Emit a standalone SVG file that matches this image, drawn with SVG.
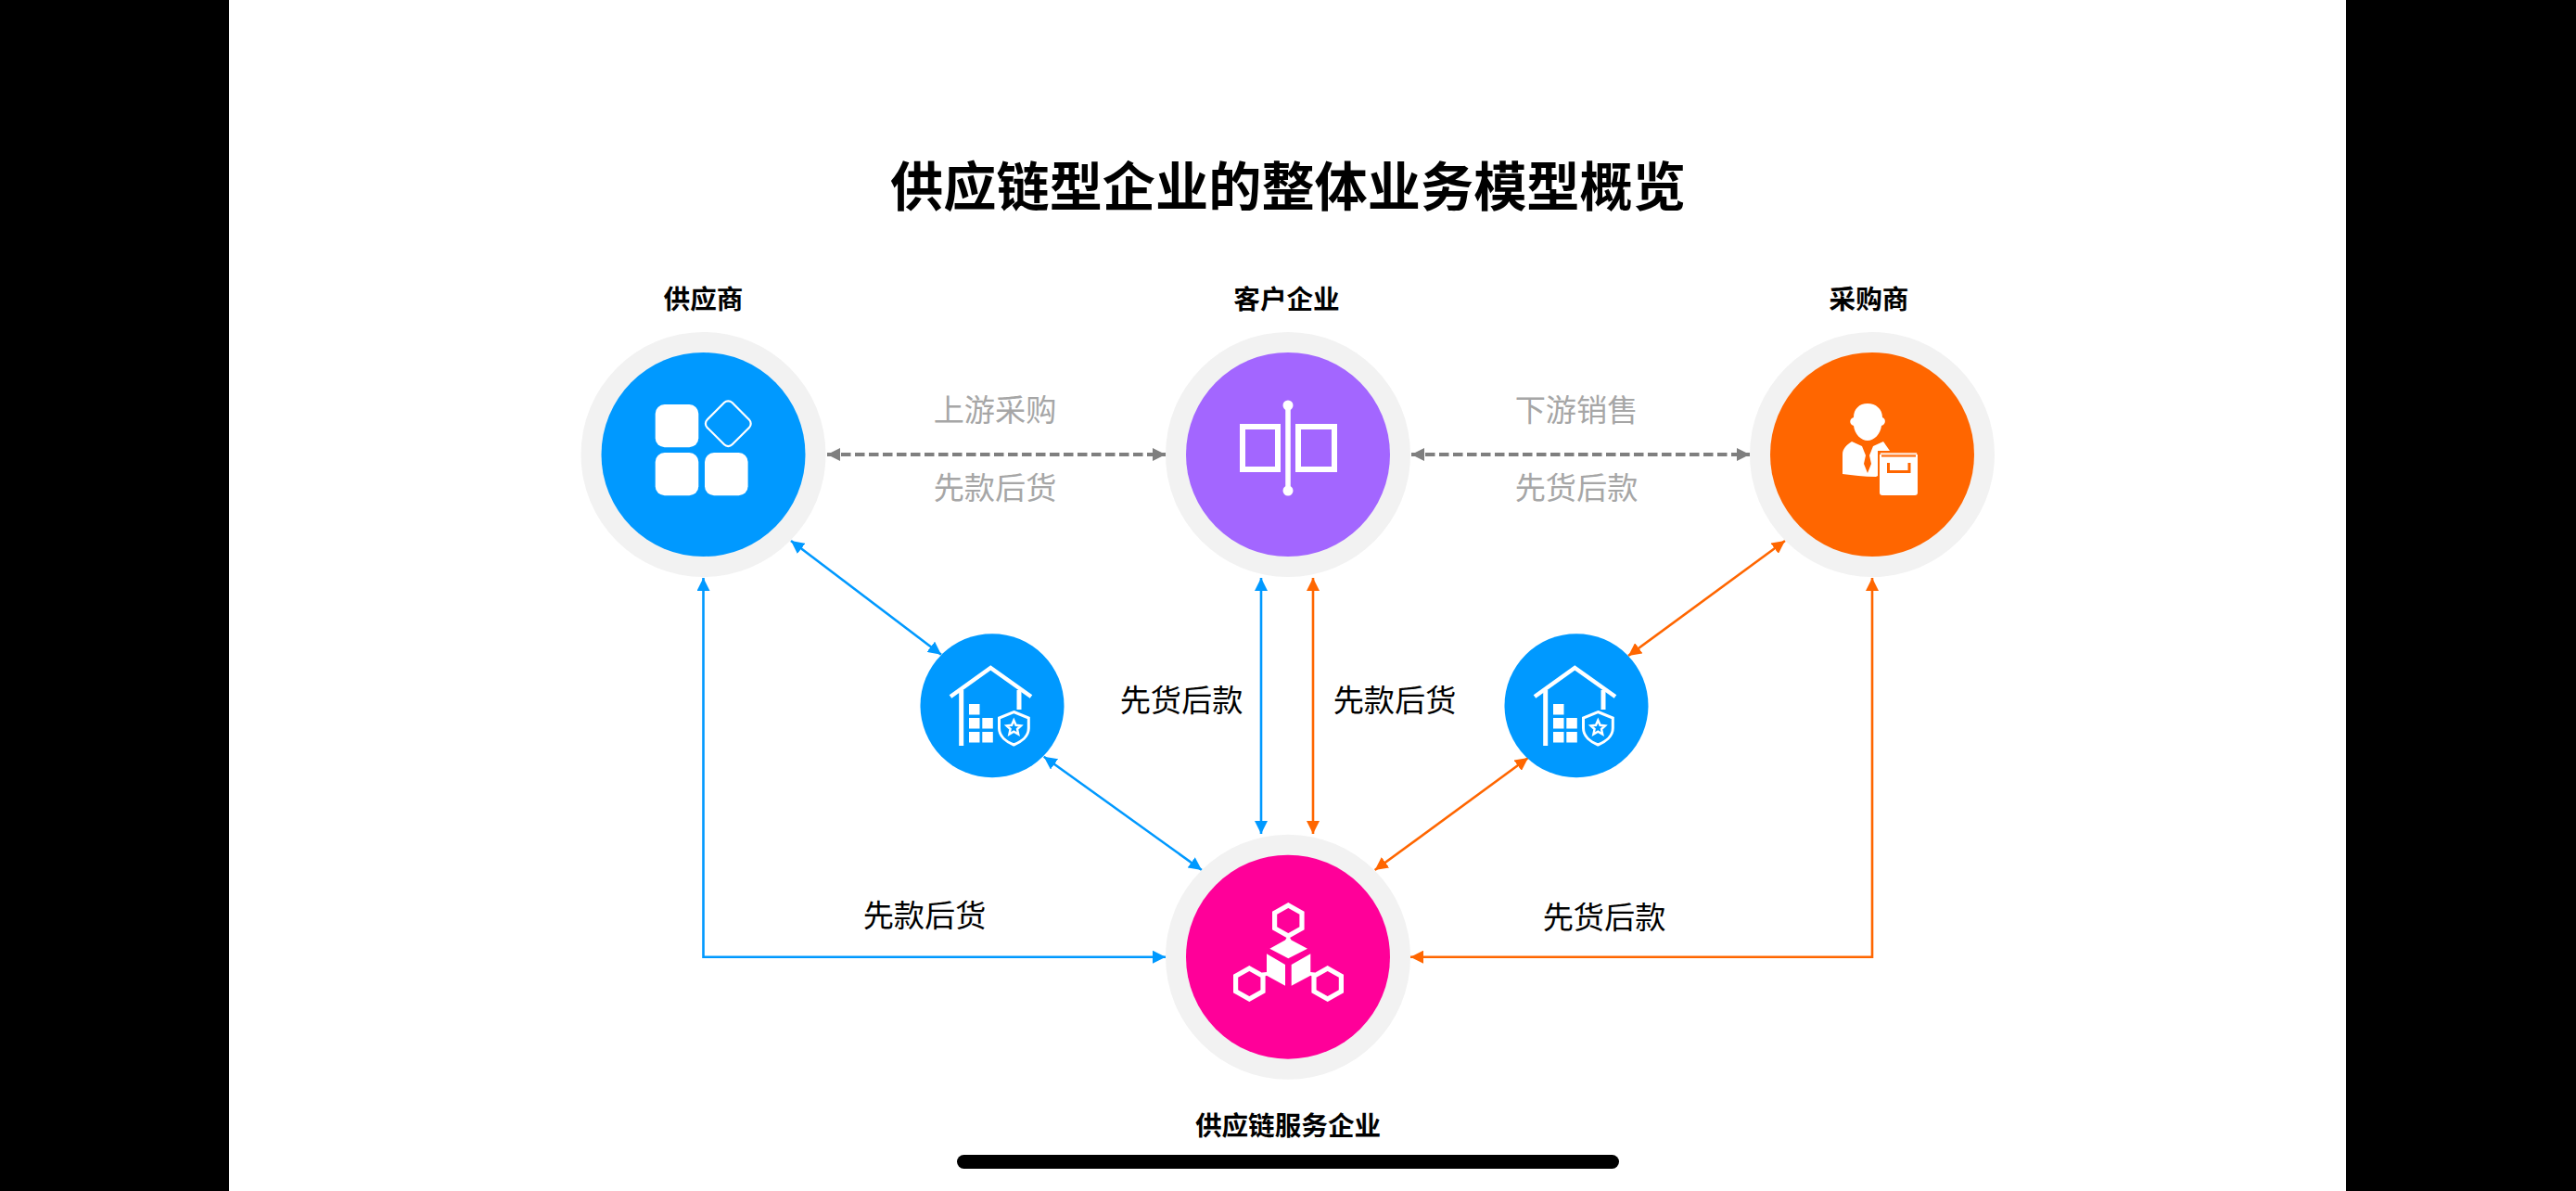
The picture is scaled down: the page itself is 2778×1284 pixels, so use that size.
<svg xmlns="http://www.w3.org/2000/svg" width="2778" height="1284" viewBox="0 0 2778 1284">
<style>
text{font-family:"Noto Sans CJK SC","Liberation Sans",sans-serif;text-anchor:middle}
.title{font-size:57.2px;font-weight:700;fill:#000}
.name{font-size:28.6px;font-weight:700;fill:#000}
.grey{font-size:33.2px;fill:#a6a6a6}
.edge{font-size:33.2px;fill:#000}
.ring{fill:#f2f2f2}
.w{fill:#fff}
.wl{fill:none;stroke:#fff}
.b{fill:none;stroke:#0099ff;stroke-width:2.6;marker-start:url(#ab);marker-end:url(#ab)}
.o{fill:none;stroke:#ff6600;stroke-width:2.6;marker-start:url(#ao);marker-end:url(#ao)}
.g{fill:none;stroke:#7f7f7f;stroke-width:4;stroke-dasharray:10.5 4.5;marker-start:url(#ag);marker-end:url(#ag)}
</style>
<defs>
<marker id="ab" markerUnits="userSpaceOnUse" markerWidth="15" markerHeight="14" refX="14" refY="7" orient="auto-start-reverse"><path d="M0 0L14 7L0 14z" fill="#0099ff"/></marker>
<marker id="ao" markerUnits="userSpaceOnUse" markerWidth="15" markerHeight="14" refX="14" refY="7" orient="auto-start-reverse"><path d="M0 0L14 7L0 14z" fill="#ff6600"/></marker>
<marker id="ag" markerUnits="userSpaceOnUse" markerWidth="15" markerHeight="14" refX="14" refY="7" orient="auto-start-reverse"><path d="M0 0L14 7L0 14z" fill="#7f7f7f"/></marker>
<g id="house">
<path class="wl" stroke-width="4.5" d="M1025 751L1068.300 720L1112 751"/>
<path class="wl" stroke-width="5" d="M1036.700 744V804M1099 744V765"/>
<path class="w" d="M1045 759h11.500v11.500h-11.500zM1045 774h11.500v11.500h-11.500zM1059.300 774h11.500v11.500h-11.500zM1045 789h11.500v11.500h-11.500zM1059.300 789h11.500v11.500h-11.500z"/>
<path class="wl" stroke-width="3" d="M1093.300 767.500L1109.300 774V785C1109.300 794 1101 800 1093.300 803C1085.600 800 1077.500 794 1077.500 785V774z"/>
<path class="wl" stroke-width="2.400" d="M1093.300 776.500L1095.600 781.800L1101 782.400L1097 786L1098.200 791.500L1093.300 788.700L1088.400 791.500L1089.600 786L1085.600 782.400L1091 781.800z"/>
</g>
</defs>
<rect width="2778" height="1284" fill="#fff"/>
<rect x="0" y="0" width="247" height="1284" fill="#000"/>
<rect x="2530" y="0" width="248" height="1284" fill="#000"/>
<rect x="1032" y="1245" width="714" height="15" rx="7.500" fill="#000"/>
<text class="title" x="1389" y="222">供应链型企业的整体业务模型概览</text>
<g id="connectors">
<path class="g" d="M892 490H1257"/>
<path class="g" d="M1522 490H1887"/>
<path class="b" d="M758.500 623V1031.700H1257"/>
<path class="o" d="M2019 623V1031.700H1521"/>
<path class="b" d="M1360 623V899"/>
<path class="o" d="M1416 623V899"/>
<path class="b" d="M853 583L1015 705.700"/>
<path class="b" d="M1125.700 815.700L1296 938"/>
<path class="o" d="M1925 583L1756 707"/>
<path class="o" d="M1648 817L1482.700 938"/>
</g>
<g id="edge-labels">
<text class="grey" x="1073" y="454">上游采购</text>
<text class="grey" x="1073" y="538">先款后货</text>
<text class="grey" x="1700" y="454">下游销售</text>
<text class="grey" x="1700" y="538">先货后款</text>
<text class="edge" x="1274" y="767">先货后款</text>
<text class="edge" x="1504" y="767">先款后货</text>
<text class="edge" x="997" y="999">先款后货</text>
<text class="edge" x="1730" y="1001">先货后款</text>
</g>
<g id="supplier">
<circle class="ring" cx="758.500" cy="490" r="132"/>
<circle cx="758.500" cy="490" r="110" fill="#0099ff"/>
<rect class="w" x="706.700" y="436" width="46.600" height="46.300" rx="10"/>
<rect class="w" x="706.700" y="488" width="46.600" height="46.300" rx="10"/>
<rect class="w" x="760" y="488" width="46.600" height="46.300" rx="10"/>
<rect class="wl" stroke-width="2.200" x="766.300" y="437.700" width="38" height="38" rx="6" transform="rotate(45 785.300 456.700)"/>
<text class="name" x="758.500" y="333">供应商</text>
</g>
<g id="customer">
<circle class="ring" cx="1389" cy="490" r="132"/>
<circle cx="1389" cy="490" r="110" fill="#a366ff"/>
<rect class="wl" stroke-width="6" x="1340" y="460" width="38" height="46"/>
<rect class="wl" stroke-width="6" x="1400" y="460" width="39" height="46"/>
<path class="wl" stroke-width="5.500" d="M1389 436V530"/>
<circle class="w" cx="1389" cy="437" r="5.500"/>
<circle class="w" cx="1389" cy="529" r="5.500"/>
<text class="name" x="1387.500" y="333">客户企业</text>
</g>
<g id="purchaser">
<circle class="ring" cx="2019" cy="490" r="132"/>
<circle cx="2019" cy="490" r="110" fill="#ff6600"/>
<path class="w" d="M1999 450C1999 441 2005 435 2014 435C2023 435 2030 441 2030 450C2034 451 2034 458 2029 459C2028 468 2021 475 2014 475C2007 475 2000 468 1999 459C1994 458 1994 451 1999 450z"/>
<path class="w" d="M1997 476L2008 481L2012 491L2010 500L2014 510L2018 500L2016 491L2020 481L2031 476L2038 486H2025V513L2023 514C2010 514 1998 512 1987 511V490C1987 484 1991 480 1997 476z"/>
<path class="w" d="M2027 490H2068V531Q2068 534 2065 534H2030Q2027 534 2027 531z"/>
<path class="wl" stroke-width="1.700" d="M2027.800 489H2067.200"/>
<path fill="none" stroke="#ff6600" stroke-width="3" d="M2036.500 499V508.500H2059V499"/>
<path fill="#ff6600" d="M2029 490.500H2066V492.500H2029z"/>
<text class="name" x="2015.500" y="333">采购商</text>
</g>
<g id="warehouse-left">
<circle cx="1070" cy="760.700" r="77.500" fill="#0099ff"/>
<use href="#house"/>
</g>
<g id="warehouse-right">
<circle cx="1700" cy="760.700" r="77.500" fill="#0099ff"/>
<use href="#house" x="630"/>
</g>
<g id="service">
<circle class="ring" cx="1389" cy="1031.700" r="132"/>
<circle cx="1389" cy="1031.700" r="110" fill="#ff0099"/>
<path class="wl" stroke-width="5.200" d="M1389.300 976L1404 984.300V1000.800L1389.300 1009L1374.600 1000.800V984.300z"/>
<path class="wl" stroke-width="5.200" d="M1347.300 1044L1362 1052.300V1068.800L1347.300 1077L1332.600 1068.800V1052.300z"/>
<path class="wl" stroke-width="5.200" d="M1431.700 1044L1446.400 1052.300V1068.800L1431.700 1077L1417 1068.800V1052.300z"/>
<path class="w" d="M1369.300 1022.700L1386 1013.500L1389.300 1008L1392.600 1013.500L1410 1022.700L1389.300 1033.300z"/>
<path class="w" d="M1366 1028.300L1386 1040V1062.700L1366 1051.700L1361 1053.500V1048.500L1366 1048z"/>
<path class="w" d="M1413.300 1028.300L1392.700 1040V1062.700L1413.300 1051.700L1418 1053.500V1048.500L1413.300 1048z"/>
<text class="name" x="1389" y="1224">供应链服务企业</text>
</g>
</svg>
